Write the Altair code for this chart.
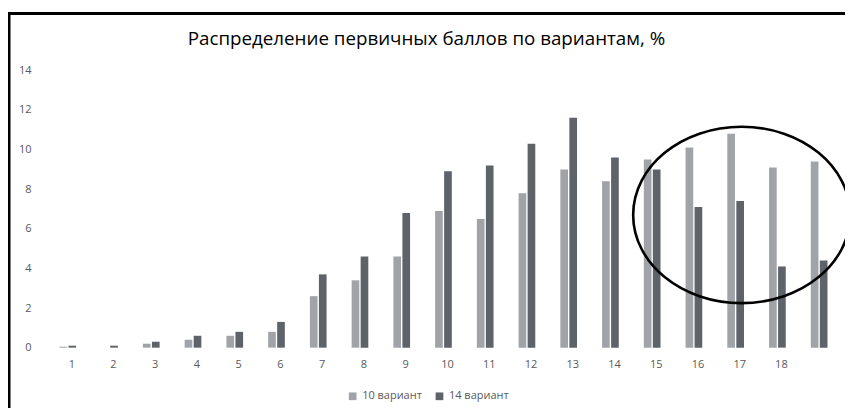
import altair as alt
import pandas as pd

categories = list(range(1, 20))
tick_labels = [str(i) for i in range(1, 19)] + [""]
series_names = ["10 вариант", "14 вариант"]
v10 = [0.05, 0.0, 0.2, 0.4, 0.6, 0.8, 2.6, 3.4, 4.6, 6.9, 6.5, 7.8, 9.0, 8.4, 9.5, 10.1, 10.8, 9.1, 9.4]
v14 = [0.1, 0.1, 0.3, 0.6, 0.8, 1.3, 3.7, 4.6, 6.8, 8.9, 9.2, 10.3, 11.6, 9.6, 9.0, 7.1, 7.4, 4.1, 4.4]
y_ticks = [0, 2, 4, 6, 8, 10, 12, 14]
colors = ["#a0a3a7", "#5e636a"]

# annotation ellipse (data coords)
ellipse_cat = [17]
ellipse_val = [6.7]

rows = []
for c, a, b in zip(categories, v10, v14):
    rows.append({"cat": c, "series": series_names[0], "value": a})
    rows.append({"cat": c, "series": series_names[1], "value": b})
df = pd.DataFrame(rows)

label_map = "{" + ",".join(f"'{c}':'{l}'" for c, l in zip(categories, tick_labels)) + "}"

W, H = 795, 278

x_axis = alt.Axis(labelAngle=0, ticks=False, domain=False, labelPadding=11, grid=False,
                  labelOffset=4,
                  labelFont="Open Sans", labelFontSize=11, labelColor="#595959",
                  labelExpr=f"{label_map}[datum.label]")
y_axis = alt.Axis(values=y_ticks, grid=False, ticks=False, domain=False,
                  labelOverlap=False, labelPadding=16, labelFont="Open Sans",
                  labelFontSize=11, labelColor="#595959")
x_scale = alt.Scale(paddingInner=0.6, paddingOuter=0.3)
y_scale = alt.Scale(domain=[0, 14])

bars = alt.Chart(df).mark_bar().encode(
    x=alt.X("cat:O", title=None, scale=x_scale, axis=x_axis),
    xOffset=alt.XOffset("series:N", sort=series_names,
                        scale=alt.Scale(paddingInner=0.15)),
    y=alt.Y("value:Q", title=None, scale=y_scale, axis=y_axis),
    color=alt.Color("series:N", sort=series_names,
                    scale=alt.Scale(domain=series_names, range=colors),
                    legend=alt.Legend(title=None, orient="none", direction="horizontal",
                                      legendX=301, legendY=321, symbolType="square",
                                      symbolSize=60, symbolStrokeWidth=0,
                                      labelFont="Open Sans", labelFontSize=11,
                                      labelColor="#595959", columnPadding=12,
                                      symbolOffset=0, labelOffset=4)),
)

edf = pd.DataFrame({"cat": ellipse_cat, "value": ellipse_val})
ellipse = alt.Chart(edf).mark_point(
    shape="M-1,0 A1,0.813 0 1,1 1,0 A1,0.813 0 1,1 -1,0 Z",
    size=47300, filled=False, stroke="black", strokeWidth=2.6, opacity=1,
    xOffset=6,
).encode(x=alt.X("cat:O", title=None, scale=x_scale, axis=x_axis),
         y=alt.Y("value:Q", title=None, scale=y_scale, axis=y_axis))

border = alt.Chart(pd.DataFrame({"a": [0]})).mark_rect(
    fill=None, stroke="black", strokeWidth=3,
).encode(x=alt.value(-38), x2=alt.value(900), y=alt.value(-57), y2=alt.value(420))

chart = alt.layer(bars, ellipse, border).properties(
    width=W, height=H,
    background="white",
    padding={"left": 39, "top": 62, "right": 5, "bottom": 60},
    autosize=alt.AutoSizeParams(type="none"),
    title=alt.TitleParams("Распределение первичных баллов по вариантам, %",
                          font="Open Sans", fontSize=18.8, fontWeight="normal",
                          color="#000000", anchor="middle", dx=-17, offset=-37),
).configure_view(stroke=None)

chart.save("out.html", embed_options={"renderer": "svg", "actions": False})
